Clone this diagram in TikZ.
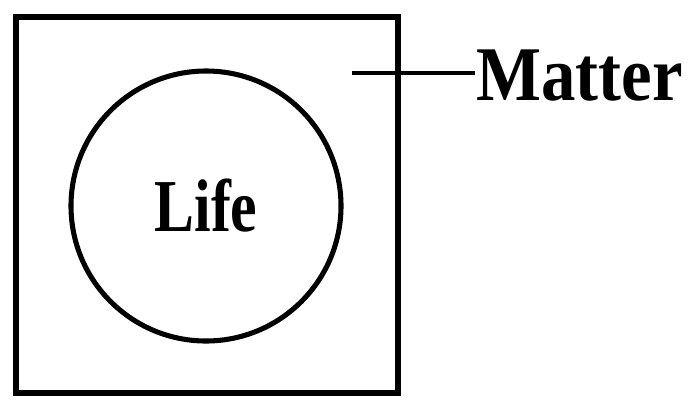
\documentclass[tikz,border=0pt]{standalone}
\usepackage{fontspec}
\setmainfont{Liberation Serif}
\usetikzlibrary{positioning}

\begin{document}
\begin{tikzpicture}[x=0.75pt,y=0.75pt,yscale=-1,xscale=1]
\useasboundingbox (0,0) rectangle (688,400);

%Shape: Square [id:matterbox]
\node (matterbox) [draw, line width=4.4pt, inner sep=0pt, minimum width=286.5pt, minimum height=282pt] at (207,205) {};
%Shape: Circle [id:life]
\node (life) [draw, circle, line width=3.8pt, inner sep=0pt, minimum size=202.5pt, font=\fontsize{56}{60}\selectfont\bfseries] at (206,206) {\scalebox{0.8}[1]{Life}};

% Text Node
\node (matter) [anchor=west, inner sep=0.75pt, font=\fontsize{58}{62}\selectfont\bfseries] at (475,76) {\scalebox{0.89}[1]{Matter}};
%Straight Lines [id:leader]
\coordinate (leadstart) at (352,73);
\draw [line width=3.6pt] (leadstart) -- (matter.west |- leadstart);
\end{tikzpicture}
\end{document}
